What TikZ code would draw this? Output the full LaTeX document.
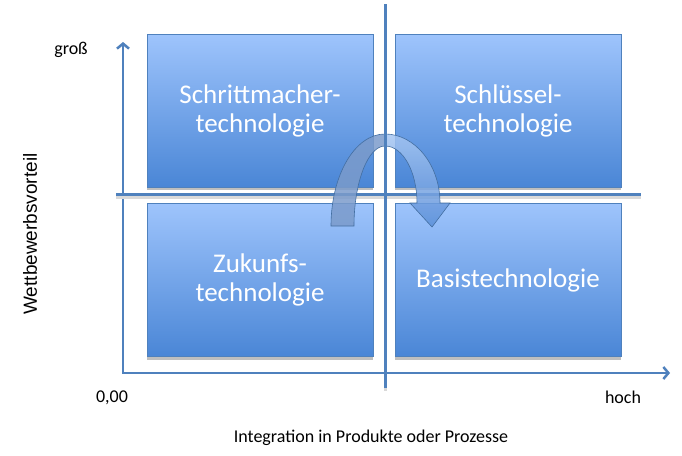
\documentclass[tikz,border=0pt]{standalone}
\usepackage{fontspec}
\setmainfont{Carlito}
\newfontfamily\arialfont{Liberation Sans}
\usepackage{tikz}
\usetikzlibrary{arrows.meta, shadows}
\definecolor{linieblau}{HTML}{4F81BD}
\definecolor{boxoben}{HTML}{9EC4FC}
\definecolor{boxunten}{HTML}{4A86D6}
\definecolor{pfeilhinten}{HTML}{7B9BCB}
\definecolor{pfeilhell}{HTML}{A6C6F2}
\definecolor{pfeildunkel}{HTML}{5B8FD8}
\tikzset{
    quadrant/.style={rectangle, draw=linieblau, line width=0.8pt, top color=boxoben, bottom color=boxunten,
        minimum width=226pt, minimum height=153pt, inner sep=0pt, text=white, align=center,
        font=\fontsize{27}{29}\selectfont,
        drop shadow={shadow xshift=0pt, shadow yshift=-3pt, opacity=0.25, fill=black}},
    divider/.style={draw=linieblau, line width=3pt},
    dividershadow/.style={draw=black!15, line width=3pt},
    axis/.style={draw=linieblau, line width=2.5pt,
        {Straight Barb[length=5pt,width=12pt]}-{Straight Barb[length=5pt,width=12pt]}},
    axislabel/.style={font=\fontsize{18}{21}\selectfont, text=black},
    pfeilrand/.style={draw=linieblau!85!black, line width=0.6pt, fill opacity=0.85}
}

\begin{document}
\begin{tikzpicture}[x=1pt, y=-1pt]
    \useasboundingbox (0,0) rectangle (682,455);

    % quadrants
    \node[quadrant] (schritt) at (260,110.5) {Schrittmacher-\\technologie};
    \node[quadrant] (schluessel) at (508,110.5) {Schlüssel-\\technologie};
    \node[quadrant] (zukunft) at (260,280) {Zukunfs-\\technologie};
    \node[quadrant] (basis) at (508,280) {Basistechnologie};

    % axes
    \coordinate (origin) at (123,373);
    \coordinate (ytop) at (123,42);
    \coordinate (xend) at (670,373);
    \draw[axis] (ytop) -- (origin) -- (xend);

    % horizontal divider
    \coordinate (hlinks) at (116,194);
    \coordinate (hrechts) at (641,194);
    \draw[dividershadow] ([yshift=-3pt]hlinks) -- ([yshift=-3pt]hrechts);
    \draw[divider] (hlinks) -- (hrechts);

    % curved arrow (back part, front part)
    \fill[pfeilhinten, pfeilrand] (331,226) .. controls (331,175) and (355,134) .. (385,134)
        -- (385,146) .. controls (368,146) and (354,182) .. (354,226) -- cycle;
    \shade[top color=pfeilhell, bottom color=pfeildunkel, pfeilrand]
        (385,134) .. controls (415,134) and (440,165) .. (440,203)
        -- (450,203) -- (432,227) -- (410,203) -- (417,203)
        .. controls (417,172) and (403,146) .. (385,146) -- cycle;

    % vertical divider
    \coordinate (voben) at (385,4);
    \coordinate (vunten) at (385,388);
    \draw[dividershadow] ([yshift=-3pt]voben) -- ([yshift=-3pt]vunten);
    \draw[divider] (voben) -- (vunten);

    % labels
    \node[axislabel] (gross) at (71,50) {groß};
    \node[axislabel] (null) at (112,398) {0,00};
    \node[axislabel] (hoch) at (623,397) {hoch};
    \node[axislabel] (xachse) at (371,438) {Integration in Produkte oder Prozesse};
    \node[rotate=90, font=\arialfont\fontsize{19}{22}\selectfont] (yachse) at (30,234) {Wettbewerbsvorteil};
\end{tikzpicture}
\end{document}
